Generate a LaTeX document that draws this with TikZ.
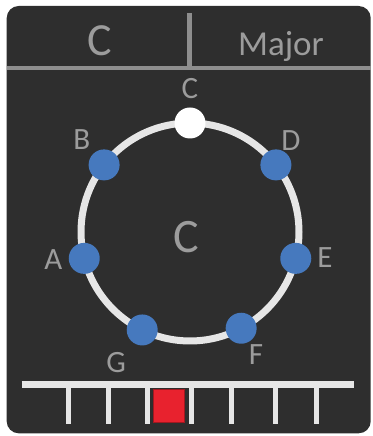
\documentclass[tikz,border=0pt]{standalone}
\usepackage{fontspec}
\setmainfont{Carlito}
\definecolor{panel}{HTML}{2E2E2E}
\definecolor{ring gray}{HTML}{E6E6E6}
\definecolor{note blue}{HTML}{4679BE}
\definecolor{text gray}{HTML}{9C9C9C}
\definecolor{rule gray}{HTML}{8E8E8E}
\definecolor{key red}{HTML}{E8222E}

\begin{document}
\begin{tikzpicture} [
    x=1pt, y=1pt,
    note dot/.style = {circle, minimum size=31pt, inner sep=0pt},
    note label/.style = {text=text gray, font=\fontsize{31}{31}\selectfont, inner sep=0pt},
    big text/.style = {text=text gray, inner sep=0pt}
]
    \useasboundingbox (0,0) rectangle (372,436);
    \fill[panel, rounded corners=12pt] (6.7,2.7) rectangle (370.7,430);

    % header: key | mode
    \draw[rule gray, line width=4pt] (6.7,368) -- (370.7,368);
    \draw[rule gray, line width=5pt] (189,423) -- (189,368);
    \node[big text, font=\fontsize{46}{46}\selectfont, anchor=base] (key) at (99.5,380) {C};
    \node[big text, font=\fontsize{35}{35}\selectfont, anchor=base] (mode) at (281,380) {Major};

    % circle of notes
    \node[draw=ring gray, line width=7pt, circle, minimum size=218pt, outer sep=0pt] (ring) at (190,204) {};
    \node[big text, font=\fontsize{48}{48}\selectfont] (tonic) at (186,199) {C};

    \foreach \n/\a/\c/\la/\lr in {C/90/white/90/143, D/38/note blue/42.3/136.6,
        E/-14/note blue/-10.8/137.4, F/-62.5/note blue/-61.8/139.6,
        G/-116.6/note blue/-119.6/149.6, A/194.8/note blue/191.3/139.4,
        B/142.5/note blue/139.4/142.6}
    {
        \node[note dot, fill=\c] (dot\n) at (ring.\a) {};
        \node[note label] (lbl\n) at ([shift={(\la:\lr)}] ring.center) {\n};
    }

    % keyboard strip
    \draw[ring gray, line width=7.5pt] (21.7,51.5) -- (354.3,51.5);
    \foreach \x in {68,108,147,191.5,231.7,275,316.7}
        \draw[ring gray, line width=5pt] (\x,51.5) -- (\x,12);
    \filldraw[fill=key red, draw=key red!70!black, line width=1pt] (153.3,13.3) rectangle (184.3,46.7);
\end{tikzpicture}
\end{document}
